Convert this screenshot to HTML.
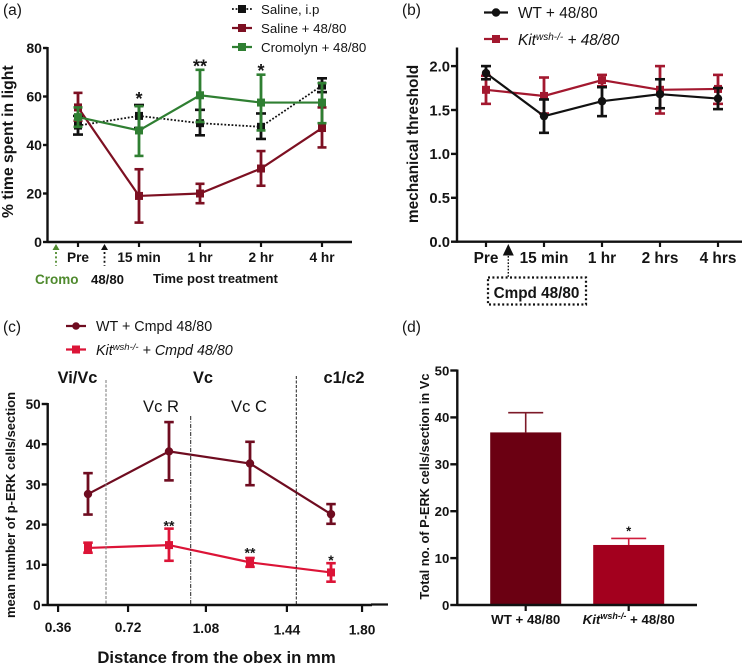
<!DOCTYPE html>
<html lang="en">
<head>
<meta charset="utf-8">
<title>Four panel figure</title>
<style>
html,body{margin:0;padding:0;background:#fff;}
svg{display:block;filter:blur(0.35px);}
text{font-family:"Liberation Sans",sans-serif;fill:#141414;}
.b{font-weight:bold;}
</style>
</head>
<body>
<svg id="fig" xmlns="http://www.w3.org/2000/svg" width="750" height="666" viewBox="0 0 750 666">
  <rect x="0" y="0" width="750" height="666" fill="#fff"/>

  <text x="3" y="15" font-size="15.5">(a)</text>
  <text x="402" y="15" font-size="15.5">(b)</text>
  <text x="3" y="332" font-size="15.5">(c)</text>
  <text x="402" y="332" font-size="15.5">(d)</text>

  <g id="panelA"></g>
  <g id="panelB"></g>
  <g id="panelC"></g>
  <g id="panelD"></g>

  <!-- Panel A annotations -->
  <text class="b" font-size="15.7" text-anchor="middle" transform="translate(13,141.7) rotate(-90)">% time spent in light</text>
  <polygon points="56,244 52.5,250 59.5,250" fill="#4f8a2e"/>
  <line x1="56" y1="252" x2="56" y2="266" stroke="#4f8a2e" stroke-width="1.8" stroke-dasharray="2 2.4"/>
  <polygon points="104.500,244 101,250 108,250" fill="#111"/>
  <line x1="104.500" y1="252" x2="104.500" y2="266" stroke="#111" stroke-width="1.8" stroke-dasharray="2 2.4"/>
  <text class="b" x="35" y="284" font-size="13.5" style="fill:#4f8a2e">Cromo</text>
  <text class="b" x="91" y="284" font-size="13.2">48/80</text>
  <text class="b" x="153" y="283" font-size="13.1">Time post treatment</text>

  <g>
    <line x1="232" y1="9" x2="252" y2="9" stroke="#111" stroke-width="1.8" stroke-dasharray="1.8 1.8"/>
    <rect x="238" y="5" width="8" height="8" fill="#111"/>
    <text x="261" y="14" font-size="13.3">Saline, i.p</text>
    <line x1="232" y1="28" x2="252" y2="28" stroke="#7d1022" stroke-width="2.2"/>
    <rect x="238" y="24" width="8" height="8" fill="#7d1022"/>
    <text x="261" y="33" font-size="13.3">Saline + 48/80</text>
    <line x1="232" y1="47" x2="252" y2="47" stroke="#2f7f32" stroke-width="2.2"/>
    <rect x="238" y="43" width="8" height="8" fill="#2f7f32"/>
    <text x="261" y="52" font-size="13.3">Cromolyn + 48/80</text>
  </g>

  <!-- Panel B annotations -->
  <text class="b" font-size="15.4" text-anchor="middle" transform="translate(418,144) rotate(-90)">mechanical threshold</text>
  <polygon points="508.300,244 502.800,255.500 513.800,255.500" fill="#111"/>
  <line x1="508.300" y1="256" x2="508.300" y2="277" stroke="#111" stroke-width="1.4" stroke-dasharray="1.6 1.6"/>
  <rect x="488" y="277.500" width="98" height="27" fill="none" stroke="#111" stroke-width="2.2" stroke-dasharray="2 2.4"/>
  <text class="b" x="536.500" y="298" font-size="15.3" text-anchor="middle">Cmpd 48/80</text>

  <g>
    <line x1="484" y1="12.500" x2="508" y2="12.500" stroke="#111" stroke-width="2.2"/>
    <circle cx="496" cy="12.500" r="4.200" fill="#111"/>
    <text x="518" y="18" font-size="15.4">WT + 48/80</text>
    <line x1="484" y1="39" x2="508" y2="39" stroke="#a3182f" stroke-width="2.2"/>
    <rect x="492" y="35" width="8" height="8" fill="#a3182f"/>
    <text x="518" y="45" font-size="15.4" font-style="italic">Kit<tspan font-size="10" dy="-5">wsh-/-</tspan><tspan dy="5"> + 48/80</tspan></text>
  </g>

  <!-- Panel C annotations -->
  <text class="b" font-size="13" text-anchor="middle" transform="translate(15,505) rotate(-90)">mean number of p-ERK cells/section</text>
  <text class="b" x="216.500" y="663" font-size="16.7" text-anchor="middle">Distance from the obex in mm</text>
  <text class="b" x="77.500" y="383" font-size="16.4" text-anchor="middle">Vi/Vc</text>
  <text class="b" x="203" y="383" font-size="16.4" text-anchor="middle">Vc</text>
  <text class="b" x="344" y="383" font-size="16.4" text-anchor="middle">c1/c2</text>
  <text x="161" y="412" font-size="16.6" text-anchor="middle">Vc R</text>
  <text x="249" y="412" font-size="16.6" text-anchor="middle">Vc C</text>
  <line x1="106" y1="380" x2="106" y2="605" stroke="#777" stroke-width="1" stroke-dasharray="3 1.5"/>
  <line x1="190.700" y1="416" x2="190.700" y2="605" stroke="#222" stroke-width="1" stroke-dasharray="4 1.500 1 1.500"/>
  <line x1="296.300" y1="376" x2="296.300" y2="605" stroke="#222" stroke-width="1" stroke-dasharray="3 1.5"/>

  <g>
    <line x1="66" y1="326" x2="86" y2="326" stroke="#6f0c20" stroke-width="2.2"/>
    <circle cx="76" cy="326" r="3.800" fill="#6f0c20"/>
    <text x="96" y="331" font-size="14.3">WT + Cmpd 48/80</text>
    <line x1="66" y1="349.500" x2="86" y2="349.500" stroke="#dc1437" stroke-width="2.2"/>
    <rect x="72" y="345.500" width="8" height="8" fill="#dc1437"/>
    <text x="96" y="355" font-size="14.3" font-style="italic">Kit<tspan font-size="9.500" dy="-5">wsh-/-</tspan><tspan dy="5"> + Cmpd 48/80</tspan></text>
  </g>

  <!-- Panel D annotations -->
  <text class="b" font-size="12.8" text-anchor="middle" transform="translate(429,486.500) rotate(-90)">Total no. of P-ERK cells/section in Vc</text>
  <text class="b" x="525.700" y="624" font-size="13.3" text-anchor="middle">WT + 48/80</text>
  <text class="b" x="628.700" y="624" font-size="13.3" text-anchor="middle"><tspan font-style="italic">Kit</tspan><tspan font-style="italic" font-size="9" dy="-5">wsh-/-</tspan><tspan dy="5"> + 48/80</tspan></text>
</svg>

<script>
/* ---------- Panel A data ---------- */
const aCategories = ['Pre', '15 min', '1 hr', '2 hr', '4 hr'];
const aTicks = [0, 20, 40, 60, 80];
const aSalineIp = [48, 52, 49, 47.5, 64.5];
const aSalineIpLow = [44.3, 47, 44, 42.5, 61.8];
const aSalineIpHigh = [52, 56.5, 54.5, 53, 67.5];
const aSaline4880 = [55.5, 19, 20, 30.3, 47];
const aSaline4880Low = [50, 8, 16, 23.2, 39];
const aSaline4880High = [61.5, 30, 24, 37.5, 55.5];
const aCromolyn = [51.5, 46, 60.5, 57.5, 57.5];
const aCromolynLow = [47.5, 35.5, 49.5, 46, 49];
const aCromolynHigh = [55.5, 56, 71, 69, 65.5];
const aStars = ['', '*', '**', '*', ''];
const aStarValues = [0, 60.7, 74, 72.2, 0];

/* ---------- Panel B data ---------- */
const bCategories = ['Pre', '15 min', '1 hr', '2 hrs', '4 hrs'];
const bTicks = [0, 0.5, 1, 1.5, 2];
const bWt = [1.92, 1.43, 1.6, 1.68, 1.63];
const bWtLow = [1.85, 1.24, 1.43, 1.52, 1.51];
const bWtHigh = [2, 1.62, 1.76, 1.85, 1.75];
const bKit = [1.73, 1.66, 1.84, 1.73, 1.74];
const bKitLow = [1.57, 1.46, 1.77, 1.46, 1.57];
const bKitHigh = [1.89, 1.87, 1.9, 2, 1.9];

/* ---------- Panel C data ---------- */
const cDistances = [0.54, 0.9, 1.26, 1.62];
const cYTicks = [0, 10, 20, 30, 40, 50];
const cXTickLabels = ['0.36', '0.72', '1.08', '1.44', '1.80'];
const cXTickValues = [0.407, 0.718, 1.064, 1.424, 1.758];
const cWt = [27.6, 38.2, 35.2, 22.6];
const cWtLow = [22.5, 31, 29.8, 20.2];
const cWtHigh = [32.8, 45.5, 40.6, 25.1];
const cKit = [14.2, 14.9, 10.6, 8.1];
const cKitLow = [13, 11, 9.5, 5.8];
const cKitHigh = [15.5, 19, 11.7, 10.4];
const cStars = ['', '**', '**', '*'];
const cStarValues = [0, 20.5, 13.8, 12];

/* ---------- Panel D data ---------- */
const dTicks = [0, 10, 20, 30, 40, 50];
const dCategories = ['WT + 48/80', 'Kit + 48/80'];
const dValues = [36.8, 12.8];
const dErrors = [41, 14.2];

const NS = 'http://www.w3.org/2000/svg';

function make(parent, tag, attrs, name) {
  const el = document.createElementNS(NS, tag);
  for (const k in attrs) el.setAttribute(k, attrs[k]);
  
  
  parent.appendChild(el);
  return el;
}

function label(parent, str, x, y, size, anchor, name) {
  const t = make(parent, 'text', {x: x, y: y, 'font-size': size, 'text-anchor': anchor, class: 'b'}, name);
  t.textContent = str;
  return t;
}

function drawSeries(parent, key, xs, ys, values, lows, highs, color, marker, dash, lineWidth, capWidth) {
  const g = make(parent, 'g', {}, key + '-series');
  values.forEach((v, i) => {
    const x = xs(i);
    make(g, 'line', {x1: x, x2: x, y1: ys(lows[i]), y2: ys(highs[i]), stroke: color, 'stroke-width': 2.8}, key + '-error-bar');
    make(g, 'line', {x1: x - capWidth / 2, x2: x + capWidth / 2, y1: ys(lows[i]), y2: ys(lows[i]), stroke: color, 'stroke-width': 2.6}, key + '-error-cap-low');
    make(g, 'line', {x1: x - capWidth / 2, x2: x + capWidth / 2, y1: ys(highs[i]), y2: ys(highs[i]), stroke: color, 'stroke-width': 2.6}, key + '-error-cap-high');
  });
  const pts = values.map((v, i) => xs(i) + ',' + ys(v)).join(' ');
  const attrs = {points: pts, fill: 'none', stroke: color, 'stroke-width': lineWidth};
  if (dash) attrs['stroke-dasharray'] = dash;
  make(g, 'polyline', attrs, key + '-line');
  values.forEach((v, i) => {
    if (marker === 'circle') {
      make(g, 'circle', {cx: xs(i), cy: ys(v), r: 4.2, fill: color}, key + '-point');
    } else {
      make(g, 'rect', {x: xs(i) - 4, y: ys(v) - 4, width: 8, height: 8, fill: color}, key + '-point');
    }
  });
}

function axes(parent, key, x0, y0, xEnd, yTop, width) {
  make(parent, 'line', {x1: x0, x2: x0, y1: yTop - 1, y2: y0 + 1, stroke: '#111', 'stroke-width': width}, key + '-y-axis');
  make(parent, 'line', {x1: x0, x2: xEnd, y1: y0, y2: y0, stroke: '#111', 'stroke-width': width}, key + '-x-axis');
}

function yTicks(parent, key, ticks, ys, x0, len, size, fmt) {
  ticks.forEach(t => {
    make(parent, 'line', {x1: x0 - len, x2: x0, y1: ys(t), y2: ys(t), stroke: '#111', 'stroke-width': 2.4}, key + '-y-tick');
    label(parent, fmt(t), x0 - len - 1, ys(t) + size * 0.36, size, 'end', key + '-y-tick-label');
  });
}

/* ---------- Panel A ---------- */
(function () {
  const p = document.getElementById('panelA');
  const xs = i => 78 + 61 * i;
  const ys = v => 242 - v * 2.425;
  axes(p, 'a', 47.5, 242, 352, 48, 2.4);
  yTicks(p, 'a', aTicks, ys, 47.5, 4.5, 14.1, t => String(t));
  aCategories.forEach((c, i) => {
    make(p, 'line', {x1: xs(i), x2: xs(i), y1: 242, y2: 247, stroke: '#111', 'stroke-width': 2.2}, 'a-x-tick');
    label(p, c, xs(i), 262, 13.7, 'middle', 'a-x-tick-label');
  });
  drawSeries(p, 'saline-ip', xs, ys, aSalineIp, aSalineIpLow, aSalineIpHigh, '#111', 'square', '1.8 1.8', 1.8, 10);
  drawSeries(p, 'saline-4880', xs, ys, aSaline4880, aSaline4880Low, aSaline4880High, '#7d1022', 'square', '', 2.2, 9);
  drawSeries(p, 'cromolyn-4880', xs, ys, aCromolyn, aCromolynLow, aCromolynHigh, '#2f7f32', 'square', '', 2.2, 9);
  aStars.forEach((s, i) => {
    if (s) label(p, s, xs(i), ys(aStarValues[i]) + 10, 18, 'middle', 'a-significance-star');
  });
})();

/* ---------- Panel B ---------- */
(function () {
  const p = document.getElementById('panelB');
  const xs = i => 486 + 58 * i;
  const ys = v => 241.7 - v * 87.8;
  axes(p, 'b', 457, 241.7, 742, ys(2.2), 2.4);
  yTicks(p, 'b', bTicks, ys, 457, 6, 14.8, t => t.toFixed(1));
  bCategories.forEach((c, i) => {
    make(p, 'line', {x1: xs(i), x2: xs(i), y1: 241.7, y2: 247, stroke: '#111', 'stroke-width': 2.2}, 'b-x-tick');
    label(p, c, xs(i), 263, 15.4, 'middle', 'b-x-tick-label');
  });
  drawSeries(p, 'kit', xs, ys, bKit, bKitLow, bKitHigh, '#a3182f', 'square', '', 2.2, 10);
  drawSeries(p, 'wt', xs, ys, bWt, bWtLow, bWtHigh, '#111', 'circle', '', 2.2, 10);
})();

/* ---------- Panel C ---------- */
(function () {
  const p = document.getElementById('panelC');
  const xd = d => 88 + (d - 0.54) * 225;
  const xs = i => xd(cDistances[i]);
  const ys = v => 605 - v * 4.02;
  axes(p, 'c', 47.7, 605, 372, 404, 2.4);
  make(p, 'line', {x1: 371, x2: 388, y1: 604.5, y2: 604.5, stroke: '#111', 'stroke-width': 2.2}, 'c-x-axis-end');
  yTicks(p, 'c', cYTicks, ys, 47.7, 6, 13.5, t => String(t));
  const labelDrop = [632, 632, 633, 634.5, 634.5];
  cXTickValues.forEach((d, i) => {
    make(p, 'line', {x1: xd(d), x2: xd(d), y1: 605, y2: 612, stroke: '#111', 'stroke-width': 2.2}, 'c-x-tick');
    label(p, cXTickLabels[i], xd(d), labelDrop[i], 13.7, 'middle', 'c-x-tick-label');
  });
  drawSeries(p, 'wt-cmpd', xs, ys, cWt, cWtLow, cWtHigh, '#6f0c20', 'circle', '', 2.2, 9.5);
  drawSeries(p, 'kit-cmpd', xs, ys, cKit, cKitLow, cKitHigh, '#dc1437', 'square', '', 2.2, 9.5);
  cStars.forEach((s, i) => {
    if (s) label(p, s, xs(i), ys(cStarValues[i]) + 8, 14, 'middle', 'c-significance-star');
  });
})();

/* ---------- Panel D ---------- */
(function () {
  const p = document.getElementById('panelD');
  const xs = i => 525.7 + 103 * i;
  const ys = v => 605 - v * 4.69;
  const colors = ['#6b0012', '#a3001e'];
  const errColors = ['#7d1a28', '#d01c3c'];
  dValues.forEach((v, i) => {
    make(p, 'line', {x1: xs(i), x2: xs(i), y1: ys(v), y2: ys(dErrors[i]), stroke: errColors[i], 'stroke-width': 1.6}, 'd-error-bar');
    make(p, 'line', {x1: xs(i) - 17.5, x2: xs(i) + 17.5, y1: ys(dErrors[i]), y2: ys(dErrors[i]), stroke: errColors[i], 'stroke-width': 1.6}, 'd-error-cap');
    make(p, 'rect', {x: xs(i) - 35.5, y: ys(v), width: 71, height: 605 - ys(v), fill: colors[i]}, 'd-bar');
    make(p, 'line', {x1: xs(i), x2: xs(i), y1: 605, y2: 611, stroke: '#111', 'stroke-width': 2.2}, 'd-x-tick');
  });
  axes(p, 'd', 457.3, 605, 697, 370.5, 2.4);
  yTicks(p, 'd', dTicks, ys, 457.3, 7, 13.2, t => String(t));
  label(p, '*', xs(1), ys(dErrors[1]) - 3, 13, 'middle', 'd-significance-star');
})();
</script>
</body>
</html>
